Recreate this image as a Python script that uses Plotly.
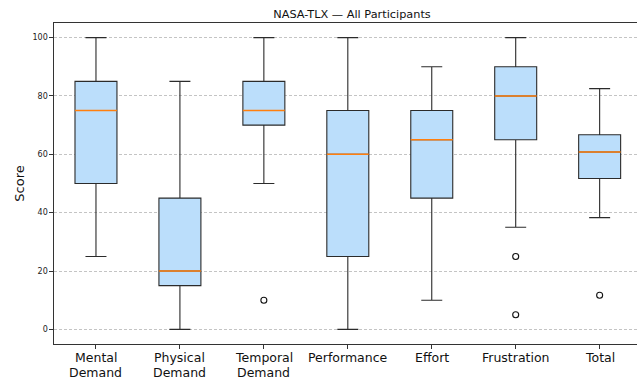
import plotly.graph_objects as go

# NASA-TLX subscale summaries (box statistics per category)
label_top = ["Mental", "Physical", "Temporal", "Performance", "Effort", "Frustration", "Total"]
label_bottom = ["Demand", "Demand", "Demand", "", "", "", ""]
positions = [1, 2, 3, 4, 5, 6, 7]
q1_vals = [50, 15, 70, 25, 45, 65, 51.7]
median_vals = [75, 20, 75, 60, 65, 80, 60.8]
q3_vals = [85, 45, 85, 75, 75, 90, 66.7]
low_whisker = [25, 0, 50, 0, 10, 35, 38.3]
high_whisker = [100, 85, 100, 100, 90, 100, 82.5]

# Outlying scores (category position, score)
outlier_pos = [3, 6, 6, 7]
outlier_vals = [10, 25, 5, 11.7]

y_ticks = [0, 20, 40, 60, 80, 100]

BOX_WIDTH = 0.5
FILL = "#BBDEFB"
EDGE = "#2b2b2b"
MEDIAN = "#ff7f0e"
FONT = "DejaVu Sans"
XLABEL_SIZE = 12.5

fig = go.Figure()

for i, p in enumerate(positions):
    fig.add_trace(go.Box(
        x=[p],
        q1=[q1_vals[i]], median=[median_vals[i]], q3=[q3_vals[i]],
        lowerfence=[low_whisker[i]], upperfence=[high_whisker[i]],
        width=BOX_WIDTH, whiskerwidth=0.5,
        fillcolor=FILL,
        line=dict(color=EDGE, width=1.1),
        boxpoints=False, hoverinfo="skip", showlegend=False,
    ))

# median bars drawn in orange on top of each box
for i, p in enumerate(positions):
    fig.add_trace(go.Scatter(
        x=[p - BOX_WIDTH / 2, p + BOX_WIDTH / 2],
        y=[median_vals[i], median_vals[i]],
        mode="lines", line=dict(color=MEDIAN, width=1.4),
        hoverinfo="skip", showlegend=False,
    ))

fig.add_trace(go.Scatter(
    x=outlier_pos, y=outlier_vals, mode="markers",
    marker=dict(symbol="circle-open", size=6, color="#111", line=dict(width=1.1)),
    hoverinfo="skip", showlegend=False,
))

# category names under each tick, one annotation per line for tight spacing
for p, top, bottom in zip(positions, label_top, label_bottom):
    for txt, shift in ((top, -13), (bottom, -28)):
        if txt:
            fig.add_annotation(
                x=p, xref="x", y=0, yref="paper", yanchor="middle", yshift=shift,
                text=txt, showarrow=False, borderpad=0,
                font=dict(size=XLABEL_SIZE, family=FONT, color="#111"),
            )

fig.update_layout(
    width=637, height=379,
    margin=dict(l=54, r=0, t=23, b=35),
    paper_bgcolor="white", plot_bgcolor="white",
    font=dict(family=FONT, color="#111"),
    title=dict(text="NASA-TLX — All Participants", font=dict(size=11.3, family=FONT, color="#111"),
               x=352 / 637, xref="container", xanchor="center",
               y=1 - 14 / 379, yref="container", yanchor="middle"),
)

fig.update_xaxes(
    range=[0.5, 7.445], tickmode="array", tickvals=positions, showticklabels=False,
    ticks="outside", ticklen=3.5, tickwidth=1, tickcolor="#333",
    showline=True, linecolor="#333", linewidth=1.2, mirror=True,
    showgrid=False, zeroline=False, automargin=False,
)
fig.update_yaxes(
    range=[-5, 105], tickmode="array", tickvals=y_ticks,
    tickfont=dict(size=8, family=FONT, color="#222"),
    ticks="outside", ticklen=3.5, tickwidth=1, tickcolor="#333",
    showline=True, linecolor="#333", linewidth=1.2,
    showgrid=True, gridcolor="#c4c4c4", gridwidth=0.8, griddash="3px,2px",
    zeroline=False, automargin=False,
    title=dict(text="Score", font=dict(size=13, family=FONT, color="#111"), standoff=4),
)

fig.write_html("out.html")
